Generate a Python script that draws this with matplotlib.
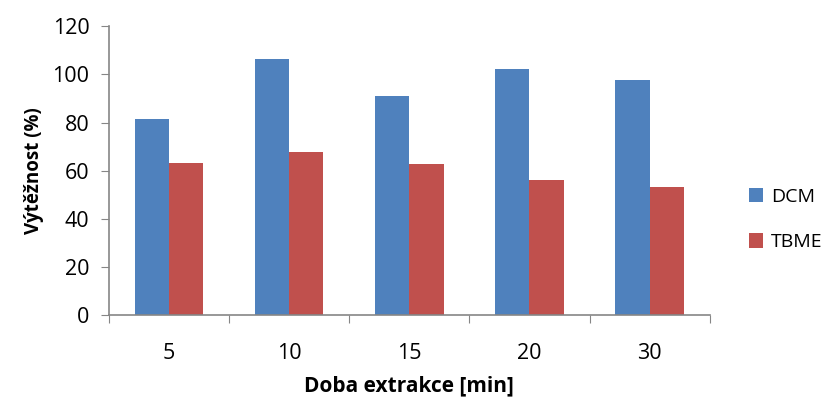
import matplotlib
matplotlib.use("Agg")
import matplotlib.pyplot as plt
import numpy as np

categories = ["5", "10", "15", "20", "30"]
dcm = [81.5, 106.2, 91.1, 102.4, 97.6]
tbme = [63.1, 67.6, 62.6, 56.3, 53.3]
yticks = [0, 20, 40, 60, 80, 100, 120]

plt.rcParams['font.family'] = ['Open Sans', 'DejaVu Sans']

fig = plt.figure(figsize=(8.37, 4.03), dpi=100)
ax = fig.add_axes([0.130, 0.218, 0.718, 0.717])

x = np.arange(len(categories))
w = 0.2857
ax.bar(x - w/2, dcm, w, color="#4F81BD", label="DCM", edgecolor="none")
ax.bar(x + w/2, tbme, w, color="#C0504D", label="TBME", edgecolor="none")

ax.set_xlim(-0.5, len(categories) - 0.5)
ax.set_ylim(0, 120)
ax.set_yticks(yticks)
ax.set_yticklabels([str(v) for v in yticks], fontsize=15.5)
ax.set_xticks(np.arange(-0.5, len(categories), 1.0))
ax.set_xticklabels([])
ax.set_xticks(x, minor=True)
ax.set_xticklabels(categories, minor=True, fontsize=15.5)
ax.tick_params(axis='x', which='minor', length=0, pad=20)
ax.tick_params(axis='x', which='major', length=6, color="#868686", direction='out')
ax.tick_params(axis='y', length=6, color="#868686", direction='out', pad=8)

for s in ['top', 'right']:
    ax.spines[s].set_visible(False)
for s in ['left', 'bottom']:
    ax.spines[s].set_color("#868686")
    ax.spines[s].set_linewidth(1.2)

ax.set_ylabel("Výtěžnost (%)", fontsize=13.5, fontweight='bold', labelpad=6)
ax.set_xlabel("Doba extrakce [min]", fontsize=15, fontweight='bold', labelpad=8)

leg = fig.legend(loc='center left', bbox_to_anchor=(0.885, 0.455), frameon=False,
                 fontsize=14, handlelength=0.75, handleheight=0.75, labelspacing=1.4,
                 handletextpad=0.4, borderaxespad=0)

fig.savefig("out.png", dpi=100)
